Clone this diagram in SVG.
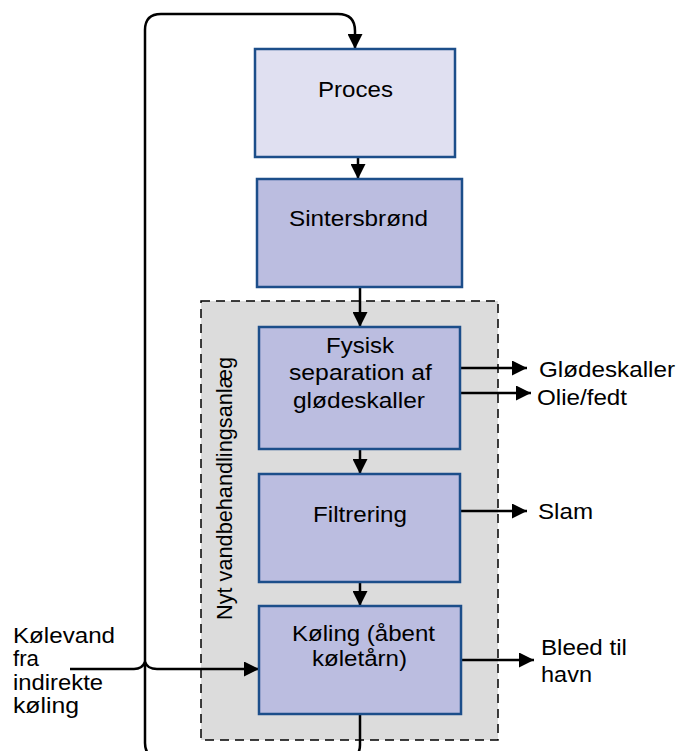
<svg xmlns="http://www.w3.org/2000/svg" width="677" height="751" viewBox="0 0 677 751">
<style>
text{font-family:"Liberation Sans",Arial,sans-serif;font-size:22px;fill:#000}
.box{fill:#BBBDE0;stroke:#1C4E8A;stroke-width:2.5}
.light{fill:#E0E0F1}
.ln{fill:none;stroke:#000;stroke-width:2.5}
.arr{marker-end:url(#ah)}
</style>
<defs>
<marker id="ah" viewBox="0 0 10 10" refX="10" refY="5" markerUnits="userSpaceOnUse" markerWidth="15" markerHeight="15" orient="auto">
<path d="M0,0 L10,5 L0,10 z" fill="#000"/>
</marker>
</defs>
<rect id="container" x="201" y="301" width="297" height="439" fill="#DCDCDC" stroke="#000" stroke-width="1.5" stroke-dasharray="9,6"/>
<text transform="translate(232,620) rotate(-90)" textLength="263" lengthAdjust="spacingAndGlyphs">Nyt vandbehandlingsanlæg</text>
<g id="connectors">
<path class="ln arr" d="M360,714 V745 Q360,758 347,758 H160 Q145,758 145,743 V30 Q145,14 161,14 H338 Q355,14 355,31 V49"/>
<path class="ln arr" d="M358,157 V179"/>
<path class="ln arr" d="M360,287 V327"/>
<path class="ln arr" d="M360,449 V474"/>
<path class="ln arr" d="M360,582 V606"/>
<path class="ln arr" d="M70,669 H134 C140,669 143,667 145,662 C147,667 150,669 157,669 H259"/>
<path class="ln arr" d="M457,368 H527"/>
<path class="ln arr" d="M461,393 H531"/>
<path class="ln arr" d="M460,511 H527"/>
<path class="ln arr" d="M461,660 H534"/>
</g>
<g id="proces">
<rect class="box light" x="255" y="49" width="200" height="108"/>
<text x="318" y="97" textLength="75" lengthAdjust="spacingAndGlyphs">Proces</text>
</g>
<g id="sintersbrond">
<rect class="box" x="257" y="179" width="205" height="108"/>
<text x="289" y="226" textLength="139" lengthAdjust="spacingAndGlyphs">Sintersbrønd</text>
</g>
<g id="fysisk">
<rect class="box" x="259" y="327" width="201" height="122"/>
<text x="326" y="353" textLength="68" lengthAdjust="spacingAndGlyphs">Fysisk</text>
<text x="289" y="380" textLength="143" lengthAdjust="spacingAndGlyphs">separation af</text>
<text x="293" y="408" textLength="132" lengthAdjust="spacingAndGlyphs">glødeskaller</text>
</g>
<g id="filtrering">
<rect class="box" x="259" y="474" width="201" height="108"/>
<text x="313" y="522" textLength="94" lengthAdjust="spacingAndGlyphs">Filtrering</text>
</g>
<g id="koling">
<rect class="box" x="259" y="606" width="202" height="108"/>
<text x="292" y="641" textLength="143" lengthAdjust="spacingAndGlyphs">Køling (åbent</text>
<text x="312" y="666" textLength="95" lengthAdjust="spacingAndGlyphs">køletårn)</text>
</g>
<g id="glodeskaller">
<text x="539" y="377" textLength="136" lengthAdjust="spacingAndGlyphs">Glødeskaller</text>
</g>
<g id="oliefedt">
<text x="537" y="405" textLength="90" lengthAdjust="spacingAndGlyphs">Olie/fedt</text>
</g>
<g id="slam">
<text x="538" y="519" textLength="55" lengthAdjust="spacingAndGlyphs">Slam</text>
</g>
<g id="bleed">
<text x="541" y="655" textLength="86" lengthAdjust="spacingAndGlyphs">Bleed til</text>
<text x="541" y="682" textLength="51" lengthAdjust="spacingAndGlyphs">havn</text>
</g>
<g id="kolevand">
<text x="13" y="643" textLength="102" lengthAdjust="spacingAndGlyphs">Kølevand</text>
<text x="13" y="666" textLength="26" lengthAdjust="spacingAndGlyphs">fra</text>
<text x="13" y="690" textLength="90" lengthAdjust="spacingAndGlyphs">indirekte</text>
<text x="13" y="713" textLength="66" lengthAdjust="spacingAndGlyphs">køling</text>
</g>
</svg>
